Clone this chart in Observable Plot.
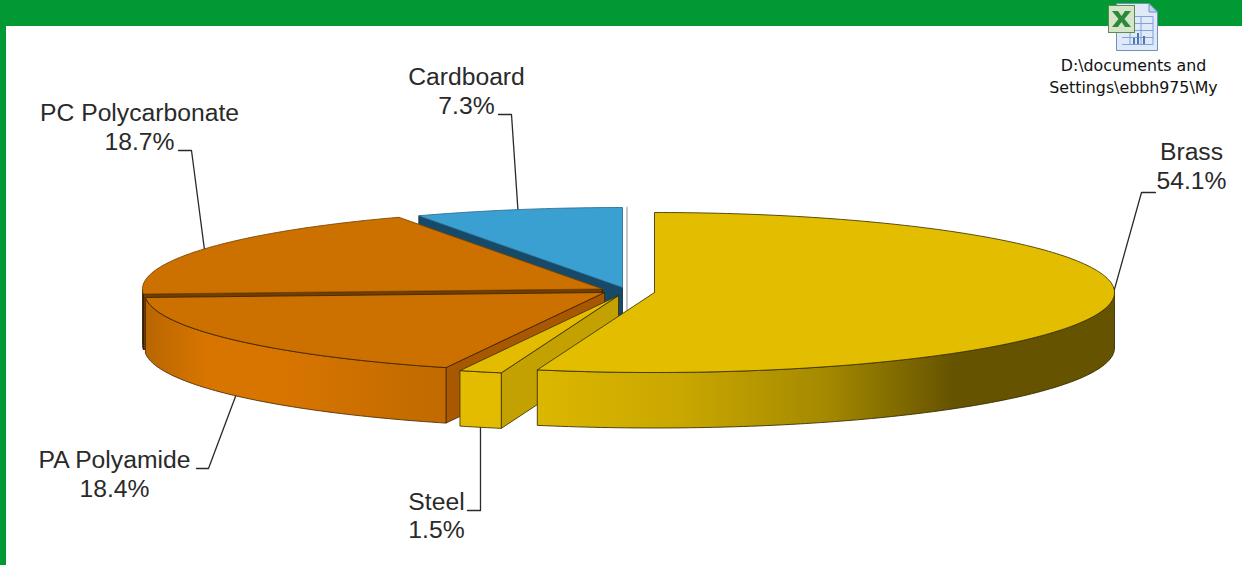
<!DOCTYPE html>
<html>
<head>
<meta charset="utf-8">
<script src="https://cdn.jsdelivr.net/npm/d3@7"></script>
<script src="https://cdn.jsdelivr.net/npm/@observablehq/plot@0.6"></script>
<style>
html,body{margin:0;padding:0;background:#fff;overflow:hidden;width:1242px;height:565px}
#top{position:absolute;left:0;top:0;width:1242px;height:26px;background:#009933}
#left{position:absolute;left:0;top:0;width:6px;height:565px;background:#009933}
#chart{position:absolute;left:0;top:0}
#chart svg{background:transparent;display:block}
#icon{position:absolute;left:1106px;top:1px}
</style>
</head>
<body>
<div id="top"></div><div id="left"></div>
<div id="chart"></div>
<svg id="icon" width="56" height="52" viewBox="0 0 56 52">
  <path d="M10.500 2.500H43L51.500 11V49.500H10.500Z" fill="#dfe9f8" stroke="#6f8fbd"/>
  <path d="M43 2.500V11H51.500Z" fill="#c3d5ee" stroke="#6f8fbd"/>
  <path d="M16 15.500H47M16 22.500H47M16 29.500H47M16 36.500H47M16 43.500H47M24 15.500V43.500M35 15.500V43.500M47 15.500V43.500" stroke="#7fa3d6" fill="none"/>
  <path d="M28 43V37M32 43V32M38 43V35" stroke="#4f78b3" stroke-width="2"/>
  <rect x="2.500" y="4.500" width="26" height="27" fill="#d5e6c8" stroke="#5f8a50"/>
  <path d="M6 10H12L15.500 15L19 10H25L18.500 18L25 26H19L15.500 21L12 26H6L12.500 18Z" fill="#2a8a3a"/>
</svg>
<script>
const categories = ["Brass", "Steel", "PA Polyamide", "PC Polycarbonate", "Cardboard"];
const shares = [54.1, 1.5, 18.4, 18.7, 7.3];
const percentLabels = ["54.1%", "1.5%", "18.4%", "18.7%", "7.3%"];
const noteLines = ["D:\\documents and", "Settings\\ebbh975\\My"];

// Layout of the projected pie
const W = 1242, H = 565;
const RX = 460, RY = 80, DEPTH = 55.5;
const centers = [[654, 292], [618, 295], [604, 292], [602, 288.5], [622, 287]];
const elbows = [
  [[1155, 192], [1141, 192]],
  [[467, 510], [480, 510]],
  [[196, 468], [208, 468]],
  [[178, 150], [191, 150]],
  [[498, 114], [511, 114]]
];
const labelAt = [[1191, 165], [436, 514.500], [114, 473], [139, 126], [466, 90]];
const noteAt = [1133, 65, 87];

const total = d3.sum(shares);
const ends = Array.from(d3.cumsum(shares), v => v / total * 360);
const wedges = categories.map((name, i) => ({
  name, c: centers[i], a0: i ? ends[i - 1] : 0, a1: ends[i]
}));
const pt = (w, a, z = 0) => {
  const t = a * Math.PI / 180;
  return [w.c[0] + RX * Math.sin(t), w.c[1] - RY * Math.cos(t) + z];
};
const arc = (w, a0, a1, z = 0) => {
  const n = Math.max(2, Math.ceil(Math.abs(a1 - a0)));
  return d3.range(n + 1).map(k => pt(w, a0 + (a1 - a0) * k / n, z));
};
const close = p => [...p, p[0]];
const topFace = w => close([w.c, ...arc(w, w.a0, w.a1)]);
const rimFace = w => {
  const a0 = Math.max(w.a0, 90), a1 = Math.min(w.a1, 270);
  return close([...arc(w, a0, a1), ...arc(w, a1, a0, DEPTH)]);
};
const cutFace = (w, a) => close([w.c, pt(w, a), pt(w, a, DEPTH), [w.c[0], w.c[1] + DEPTH]]);
const poly = (p, fill, stroke, strokeWidth = 1) =>
  Plot.line(p, {x: d => d[0], y: d => d[1], fill, stroke, strokeWidth, curve: "linear", strokeOpacity: 0.85});

const defs = () => {
  const d = d3.create("svg:defs");
  const grad = (id, stops) => {
    const g = d.append("linearGradient").attr("id", id).attr("x1", 0).attr("x2", 1).attr("y1", 0).attr("y2", 0);
    stops.forEach(([o, c]) => g.append("stop").attr("offset", o).attr("stop-color", c));
  };
  grad("brassRim", [[0, "#dcb700"], [0.25, "#c9a700"], [0.5, "#a58900"], [0.72, "#665300"], [1, "#665300"]]);
  grad("paRim", [[0, "#b86600"], [0.2, "#d87500"], [0.45, "#d87500"], [1, "#c06a00"]]);
  return d.node();
};

const [brass, steel, pa, pc, card] = wedges;
const leaderData = wedges.flatMap((w, i) => {
  const mid = (w.a0 + w.a1) / 2;
  const front = mid > 90 && mid < 270 && w !== brass;
  const end = pt(w, mid, front ? DEPTH : 0);
  return [...elbows[i], end].map(p => ({i, x: p[0], y: p[1]}));
});
const labels = wedges.map((w, i) => ({x: labelAt[i][0], y: labelAt[i][1], t: w.name + "\n" + percentLabels[i]}));
const notes = noteLines.map((t, i) => ({t, x: noteAt[0], y: noteAt[i + 1]}));

const stripX = card.c[0] + 4.5;

const chart = Plot.plot({
  width: W, height: H,
  margin: 0,
  x: {domain: [0, W], range: [0, W], axis: null},
  y: {domain: [0, H], range: [0, H], axis: null},
  marks: [
    defs,
    Plot.line(leaderData, {x: "x", y: "y", z: "i", stroke: "#2a2a2a", strokeWidth: 1.3, curve: "linear"}),
    // cardboard
    poly([[stripX, card.c[1] - RY], [stripX, card.c[1] + 30]], "none", "#bdbdbd", 2),
    poly(cutFace(card, card.a0), "#174a68", "#0e3145"),
    poly(topFace(card), "#3aa0d2", "#2b6f92"),
    // PC polycarbonate
    poly(rimFace(pc), "#6e3f00", "#3a2000"),
    poly(cutFace(pc, pc.a0), "#6f3e00", "#2d1900"),
    poly(topFace(pc), "#cc7000", "#7a4300"),
    // PA polyamide
    poly(cutFace(pa, pa.a0), "#a85800", "#4a2a00"),
    poly(rimFace(pa), "url(#paRim)", "#4a2a00"),
    poly(topFace(pa), "#cc7000", "#3f2400"),
    // Steel
    poly(cutFace(steel, steel.a0), "#c2a100", "#3d3200"),
    poly(rimFace(steel), "#e3bc00", "#3d3200"),
    poly(topFace(steel), "#e3bc00", "#3d3200"),
    // Brass
    poly(rimFace(brass), "url(#brassRim)", "#332a00"),
    poly(topFace(brass), "#e3bd00", "#3d3200"),
    Plot.text(labels, {
      x: "x", y: "y", text: "t", fontSize: 24.7, lineHeight: 1.14,
      fontFamily: "Liberation Sans", fill: "#2a2a2a", textAnchor: "middle", lineAnchor: "middle"
    }),
    Plot.text(notes, {
      x: "x", y: "y", text: "t", fontSize: 15.8,
      fontFamily: "DejaVu Sans", fill: "#111", textAnchor: "middle", lineAnchor: "middle"
    })
  ]
});
document.getElementById("chart").append(chart);
</script>
</body>
</html>
